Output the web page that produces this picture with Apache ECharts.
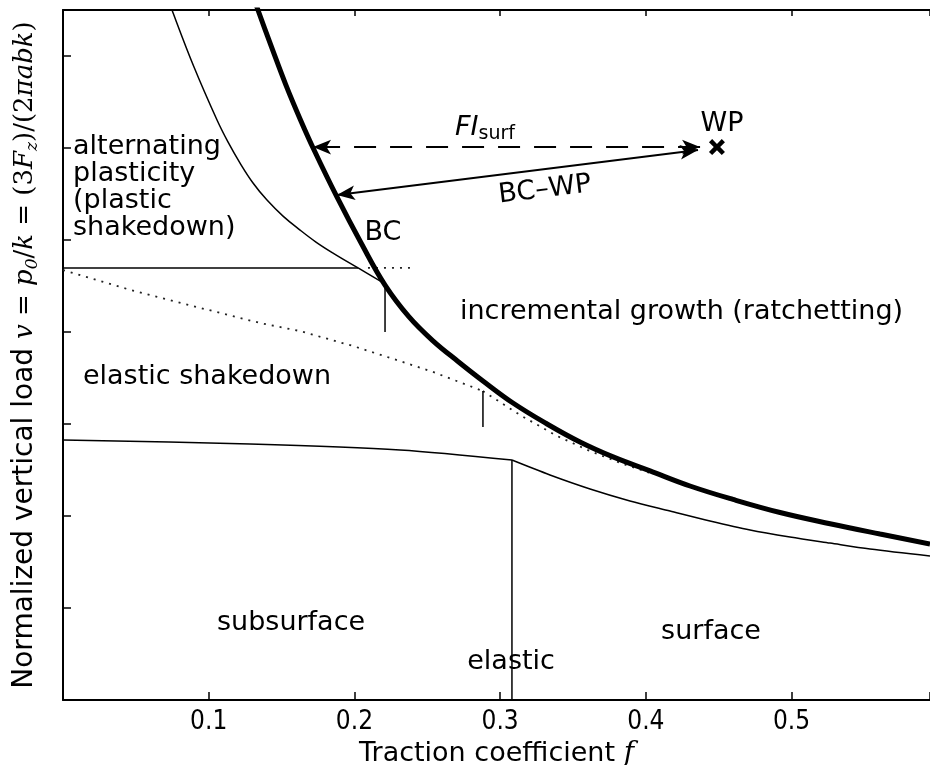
<!DOCTYPE html>
<html>
<head>
<meta charset="utf-8">
<script src="https://cdn.jsdelivr.net/npm/echarts@6/dist/echarts.min.js"></script>
<style>
  html, body { margin: 0; padding: 0; background: #fff; }
  #main { width: 930px; height: 765px; }
</style>
</head>
<body>
<div id="main"></div>
<script>
// ratchetting limit (thick curve)
var ratchetF = [0.1290, 0.1338, 0.1434, 0.1530, 0.1627, 0.1723, 0.1880, 0.2045, 0.2210, 0.2375, 0.2539, 0.2711,
  0.2882, 0.3088, 0.3322, 0.3548, 0.3775, 0.4029, 0.4303, 0.4598, 0.4921, 0.5264, 0.5607, 0.5950];
var ratchetV = [5.359, 5.250, 5.043, 4.842, 4.658, 4.489, 4.234, 3.985, 3.755, 3.582, 3.452, 3.340,
  3.234, 3.114, 3.000, 2.902, 2.821, 2.745, 2.663, 2.590, 2.519, 2.458, 2.402, 2.348];
// alternating plasticity boundary
var altF = [0.0700, 0.0748, 0.0899, 0.1057, 0.1132, 0.1215, 0.1304, 0.1400, 0.1510, 0.1627, 0.1736, 0.1853, 0.2025, 0.2210];
var altV = [5.359, 5.250, 4.940, 4.652, 4.533, 4.418, 4.310, 4.217, 4.130, 4.054, 3.989, 3.929, 3.848, 3.761];
// shakedown limit (horizontal)
var shakeF = [0, 0.2025];
var shakeV = [3.848, 3.848];
var shakeDotF = [0.2093, 0.2381];
var shakeDotV = [3.848, 3.848];
// dotted sloping curve, two parts
var dotAF = [0, 0.0439, 0.0892, 0.1352, 0.1627, 0.1990, 0.2313, 0.2539, 0.2882];
var dotAV = [3.837, 3.734, 3.641, 3.549, 3.505, 3.424, 3.342, 3.283, 3.179];
var dotBF = [0.2882, 0.3136, 0.3390, 0.3617, 0.3843, 0.4029];
var dotBV = [3.179, 3.049, 2.935, 2.853, 2.783, 2.734];
// elastic limit, subsurface then surface
var elasAF = [0, 0.1283, 0.2313, 0.3081];
var elasAV = [2.913, 2.891, 2.859, 2.804];
var elasBF = [0.3081, 0.3342, 0.3617, 0.3891, 0.4166, 0.4440, 0.4715, 0.4989, 0.5264, 0.5538, 0.5950];
var elasBV = [2.804, 2.723, 2.647, 2.582, 2.527, 2.473, 2.424, 2.386, 2.353, 2.321, 2.283];
// vertical markers
var bcMarkF = [0.2210, 0.2210];
var bcMarkV = [3.755, 3.500];
var midMarkF = [0.2882, 0.2882];
var midMarkV = [3.179, 2.984];
var elasMarkF = [0.3081, 0.3081];
var elasMarkV = [2.804, 1.5];
// working point and arrows
var wpPoint = [0.4488, 4.505];
var fiArrow = [[0.4372, 4.505], [0.1716, 4.505]];
var bcwpArrow = [[0.4358, 4.489], [0.1880, 4.245]];
// region labels
var noteTexts = ['alternating\nplasticity\n(plastic\nshakedown)', 'elastic shakedown', 'incremental growth (ratchetting)',
  'subsurface', 'surface', 'elastic', 'BC', 'WP', '{i|FI}{s|surf}', 'BC–WP'];
var noteF = [0.0069, 0.0988, 0.4245, 0.1565, 0.4447, 0.3075, 0.2196, 0.4523, 0.2896, 0.3308];
var noteV = [4.285, 3.255, 3.609, 1.918, 1.870, 1.707, 4.038, 4.630, 4.609, 4.272];

var xTicks = [0.1, 0.2, 0.3, 0.4, 0.5];

function zip(a, b) {
  return a.map(function (x, i) { return [x, b[i]]; });
}

var chart = echarts.init(document.getElementById('main'));

var sansFont = '"DejaVu Sans", sans-serif';
var condFont = '"DejaVu Sans Condensed", "DejaVu Sans", sans-serif';
var mathFont = '"DejaVu Serif", serif';

function curve(name, fs, vs, width, type, smooth, z) {
  return {
    name: name,
    type: 'line',
    data: zip(fs, vs),
    symbol: 'none',
    smooth: smooth,
    silent: true,
    z: z || 2,
    lineStyle: { color: type === 'solid' ? '#000' : '#222', width: width, type: type }
  };
}

var noteData = noteTexts.map(function (t, i) {
  var item = { value: [noteF[i], noteV[i]], label: { formatter: t, color: '#000' } };
  if (i === 0) {
    item.label.position = 'right';
    item.label.distance = 0;
    item.label.align = 'left';
    item.label.lineHeight = 27;
  }
  if (t === 'BC–WP') item.label.rotate = 7;
  return item;
});

var option = {
  animation: false,
  grid: { left: 63, right: 0, top: 10, bottom: 65, outerBoundsMode: 'none', containLabel: false },
  xAxis: [{
    type: 'value',
    min: 0, max: 0.595, interval: 0.1,
    name: 'Traction coefficient {f|f}',
    nameLocation: 'middle',
    nameGap: 34,
    nameTextStyle: {
      color: '#000', fontFamily: sansFont, fontSize: 27,
      rich: { f: { fontFamily: mathFont, fontStyle: 'italic', fontSize: 28, color: '#000' } }
    },
    axisLine: { lineStyle: { color: '#000', width: 2 } },
    axisTick: { inside: true, length: 8, lineStyle: { color: '#000', width: 1.5 } },
    axisLabel: {
      color: '#000', fontFamily: condFont, fontSize: 26, margin: 9,
      formatter: function (v) { return xTicks.indexOf(Math.round(v * 10) / 10) >= 0 && v > 0 ? v.toFixed(1) : ''; }
    },
    splitLine: { show: false }
  }, {
    type: 'value',
    position: 'top',
    min: 0, max: 0.595, interval: 0.1,
    axisLine: { lineStyle: { color: '#000', width: 2 } },
    axisTick: { inside: true, length: 6, lineStyle: { color: '#000', width: 1.5 } },
    axisLabel: { show: false },
    splitLine: { show: false }
  }],
  yAxis: {
    type: 'value',
    min: 1.5, max: 5.25, interval: 0.5,
    name: '{t|Normalized vertical load }{m|v}{o| = }{m|p}{s|0}{o|/}{m|k}{o| = (3}{m|F}{s|z}{o|)/(2}{m|πabk}{o|)}',
    nameLocation: 'middle',
    nameRotate: 90,
    nameGap: 22,
    nameTextStyle: {
      color: '#000',
      rich: {
        t: { fontFamily: sansFont, fontSize: 28, color: '#000', lineHeight: 32 },
        m: { fontFamily: mathFont, fontStyle: 'italic', fontSize: 26, color: '#000', lineHeight: 32 },
        o: { fontFamily: mathFont, fontSize: 26, color: '#000', lineHeight: 32 },
        s: { fontFamily: mathFont, fontStyle: 'italic', fontSize: 17, color: '#000', lineHeight: 32, verticalAlign: 'bottom' }
      }
    },
    axisLine: { lineStyle: { color: '#000', width: 2 } },
    axisTick: { inside: true, length: 8, lineStyle: { color: '#000', width: 1.5 } },
    axisLabel: { show: false },
    splitLine: { show: false }
  },
  series: [
    curve('shakedown', shakeF, shakeV, 1.5, 'solid', false),
    curve('shakedown-dots', shakeDotF, shakeDotV, 1.8, [2, 6], false),
    curve('dots-a', dotAF, dotAV, 1.8, [2, 6], false),
    curve('dots-b', dotBF, dotBV, 1.8, [2, 6], false),
    curve('elastic-a', elasAF, elasAV, 1.5, 'solid', 0.3),
    curve('elastic-b', elasBF, elasBV, 1.5, 'solid', 0.3),
    curve('alternating', altF, altV, 1.5, 'solid', 0.4),
    curve('bc-mark', bcMarkF, bcMarkV, 1.5, 'solid', false),
    curve('mid-mark', midMarkF, midMarkV, 1.5, 'solid', false),
    curve('elastic-mark', elasMarkF, elasMarkV, 1.5, 'solid', false),
    curve('ratchetting', ratchetF, ratchetV, 5, 'solid', 0.4, 5),
    {
      name: 'WP',
      type: 'scatter',
      data: [wpPoint],
      symbol: 'path://M0,2 L2,0 L5,3 L8,0 L10,2 L7,5 L10,8 L8,10 L5,7 L2,10 L0,8 L3,5 Z',
      symbolSize: 16,
      itemStyle: { color: '#000', opacity: 1 },
      silent: true,
      z: 6,
      markLine: {
        silent: true,
        symbol: ['arrow', 'arrow'],
        symbolSize: [11, 18],
        label: { show: false },
        data: [
          [{ coord: fiArrow[0], lineStyle: { type: [22, 14] } }, { coord: fiArrow[1] }],
          [{ coord: bcwpArrow[0], lineStyle: { type: 'solid' } }, { coord: bcwpArrow[1] }]
        ],
        lineStyle: { color: '#000', width: 2 }
      }
    },
    {
      name: 'notes',
      type: 'scatter',
      data: noteData,
      symbolSize: 0,
      itemStyle: { opacity: 1 },
      silent: true,
      z: 7,
      label: {
        show: true,
        position: 'inside',
        color: '#000',
        fontFamily: sansFont,
        fontSize: 27,
        rich: {
          i: { fontFamily: sansFont, fontStyle: 'italic', fontSize: 27, color: '#000', lineHeight: 32 },
          s: { fontFamily: sansFont, fontSize: 19, color: '#000', lineHeight: 32, verticalAlign: 'bottom' }
        }
      }
    }
  ]
};

chart.setOption(option);
</script>
</body>
</html>
